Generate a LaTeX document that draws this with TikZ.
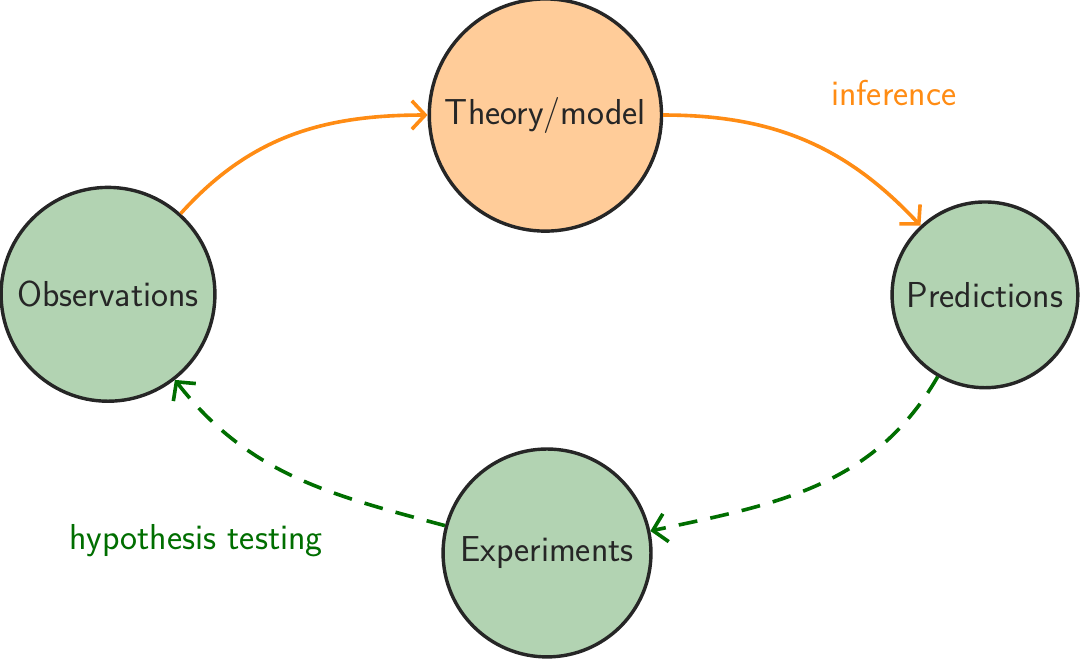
\documentclass[tikz,border=0pt]{standalone}
\usepackage{tikz}
\usepackage{xcolor}
\usetikzlibrary{arrows.meta}

\begin{document}
\begin{tikzpicture}[
    stage/.style={circle, draw=black!85, line width=1.8pt, inner sep=0pt,
        text=black!85, font=\sffamily\fontsize{19}{23}\selectfont},
    link/.style={line width=1.9pt, -{Straight Barb[length=7pt, width=15pt]}}
]
    % Define colours
    \definecolor{theoryfill}{RGB}{255, 204, 153}
    \definecolor{stagefill}{RGB}{178, 211, 178}
    \definecolor{infer}{RGB}{255, 140, 20}
    \definecolor{testgreen}{RGB}{0, 110, 0}

    \useasboundingbox (0,0) rectangle (20,-12.204);

    % Draw the four stages
    \node[stage, fill=theoryfill, minimum size=4.3cm] (theory) at (10.1,-2.13) {Theory/model};
    \node[stage, fill=stagefill, minimum size=3.96cm] (obs) at (2.0,-5.45) {Observations};
    \node[stage, fill=stagefill, minimum size=3.44cm] (pred) at (18.24,-5.46) {Predictions};
    \node[stage, fill=stagefill, minimum size=3.85cm] (exp) at (10.13,-10.24) {Experiments};

    % Inference arrows
    \draw[link, infer] (obs) to[out=48, in=180] (theory);
    \draw[link, infer] (theory) to[out=0, in=133] (pred);

    % Testing arrows
    \draw[link, testgreen, dash pattern=on 10pt off 7pt] (pred) to[out=-120, in=12] (exp);
    \draw[link, testgreen, dash pattern=on 10pt off 7pt] (exp) to[out=165, in=-52] (obs);

    % Labels
    \node[text=infer, font=\sffamily\fontsize{19}{23}\selectfont] (inflabel) at (16.55,-1.72) {inference};
    \node[text=testgreen, font=\sffamily\fontsize{19}{23}\selectfont] (testlabel) at (3.63,-10.02) {hypothesis testing};

\end{tikzpicture}
\end{document}
